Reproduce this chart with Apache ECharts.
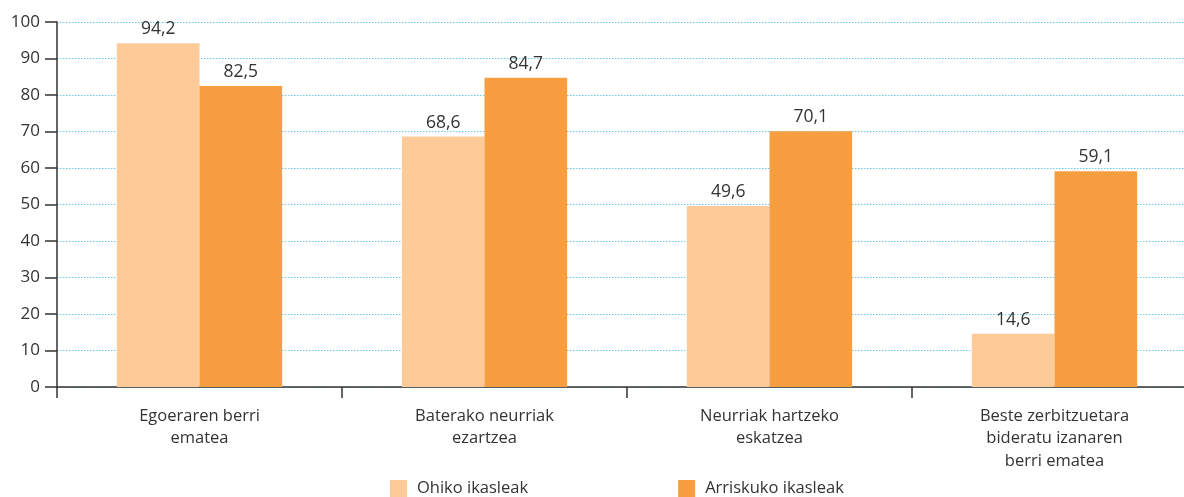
<!DOCTYPE html>
<html><head><meta charset="utf-8">
<script src="https://cdn.jsdelivr.net/npm/echarts@6/dist/echarts.min.js"></script>
<style>html,body{margin:0;padding:0;background:#fff;overflow:hidden}#c{width:1197px;height:497px}</style>
</head><body><div id="c"></div>
<script>
var categories = ['Egoeraren berri\nematea', 'Baterako neurriak\nezartzea', 'Neurriak hartzeko\neskatzea', 'Beste zerbitzuetara\nbideratu izanaren\nberri ematea'];
var seriesNames = ['Ohiko ikasleak', 'Arriskuko ikasleak'];
var ohiko = [94.2, 68.6, 49.6, 14.6];
var arrisku = [82.5, 84.7, 70.1, 59.1];

var font = '"Open Sans", "Noto Sans", sans-serif';
var chart = echarts.init(document.getElementById('c'));
function lbl(p){ return String(p.value).replace('.', ','); }
chart.setOption({
  animation: false,
  textStyle: {fontFamily: font},
  grid: {left: 57, top: 22, right: 0, bottom: 110, containLabel: false},
  legend: {
    bottom: 0, left: 390, itemWidth: 17, itemHeight: 17, itemGap: 150, padding: 0,
    textStyle: {fontSize: 16.5, color: '#333', fontFamily: font, padding: [0, 0, 0, 5]},
    data: seriesNames, icon: 'rect'
  },
  xAxis: {
    type: 'category', data: categories,
    axisLine: {lineStyle: {color: '#333', width: 1.5}},
    axisTick: {show: true, length: 11, alignWithLabel: false, lineStyle: {color: '#333', width: 1.5}},
    axisLabel: {fontSize: 16.5, color: '#333', lineHeight: 22.5, margin: 18, interval: 0, fontFamily: font}
  },
  yAxis: {
    type: 'value', min: 0, max: 100, interval: 10,
    axisLine: {show: true, lineStyle: {color: '#333', width: 1.5}},
    axisTick: {show: true, length: 12, lineStyle: {color: '#333', width: 1.5}},
    axisLabel: {fontSize: 17, color: '#333', margin: 17, fontFamily: font},
    splitLine: {show: true, lineStyle: {color: '#6ccbf2', type: [1.5, 1.5], width: 1}}
  },
  series: [
    {name: seriesNames[0], type: 'bar', data: ohiko, barGap: '0%', barCategoryGap: '42%',
     itemStyle: {color: '#fdca98'},
     label: {show: true, position: 'top', fontSize: 17.5, color: '#333', formatter: lbl, distance: 5, fontFamily: font}},
    {name: seriesNames[1], type: 'bar', data: arrisku, barGap: '0%', barCategoryGap: '42%',
     itemStyle: {color: '#f69e40'},
     label: {show: true, position: 'top', fontSize: 17.5, color: '#333', formatter: lbl, distance: 5, fontFamily: font}}
  ]
});
</script></body></html>
